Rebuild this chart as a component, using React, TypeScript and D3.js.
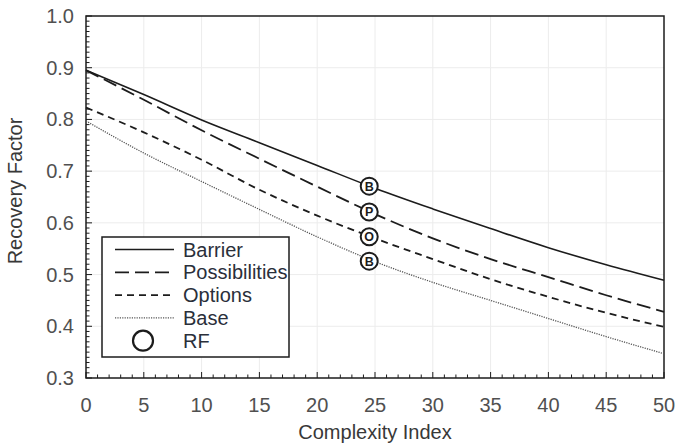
import React, { useRef, useEffect } from "react";
import * as d3 from "d3";

// complexity index samples
const xs = [0, 5, 10, 15, 20, 25, 30, 35, 40, 45, 50];
const barrier = [0.895, 0.848, 0.799, 0.755, 0.711, 0.667, 0.627, 0.589, 0.552, 0.519, 0.489];
const possibilities = [0.895, 0.838, 0.779, 0.724, 0.67, 0.617, 0.57, 0.53, 0.495, 0.46, 0.428];
const options = [0.823, 0.775, 0.722, 0.664, 0.614, 0.57, 0.53, 0.491, 0.457, 0.426, 0.399];
const base = [0.797, 0.735, 0.68, 0.626, 0.573, 0.525, 0.485, 0.45, 0.415, 0.38, 0.347];

const rfX = 24.5;
const rfVals = [0.671, 0.621, 0.573, 0.526];
const rfLetters = ["B", "P", "O", "B"];

const legendNames = ["Barrier", "Possibilities", "Options", "Base", "RF"];

const xTicks = [0, 5, 10, 15, 20, 25, 30, 35, 40, 45, 50];
const yTicks = [0.3, 0.4, 0.5, 0.6, 0.7, 0.8, 0.9, 1.0];

const App = () => {
  const ref = useRef<SVGSVGElement>(null);

  useEffect(() => {
    const svg = d3.select(ref.current);
    svg.selectAll("*").remove();

    const margin = { top: 16, right: 12, bottom: 67, left: 86 };
    const width = 676 - margin.left - margin.right;
    const height = 445 - margin.top - margin.bottom;
    const ink = "#1c1c1c";
    const font = "Liberation Sans, Arial, sans-serif";

    const x = d3.scaleLinear().domain([0, 50]).range([0, width]);
    const y = d3.scaleLinear().domain([0.3, 1.0]).range([height, 0]);

    const g = svg.append("g").attr("transform", `translate(${margin.left},${margin.top})`);

    // faint grid
    g.selectAll(".vg")
      .data(xTicks.slice(1, -1))
      .enter()
      .append("line")
      .attr("x1", (d) => x(d))
      .attr("x2", (d) => x(d))
      .attr("y1", 0)
      .attr("y2", height)
      .attr("stroke", "#ececec")
      .attr("stroke-width", 1);
    g.selectAll(".hg")
      .data(yTicks.slice(1, -1))
      .enter()
      .append("line")
      .attr("x1", 0)
      .attr("x2", width)
      .attr("y1", (d) => y(d))
      .attr("y2", (d) => y(d))
      .attr("stroke", "#ececec")
      .attr("stroke-width", 1);

    // minor + major ticks (inward)
    const xMinor = d3.range(0, 51, 1);
    g.selectAll(".xt")
      .data(xMinor)
      .enter()
      .append("line")
      .attr("x1", (d) => x(d))
      .attr("x2", (d) => x(d))
      .attr("y1", height)
      .attr("y2", (d) => height - (d % 5 === 0 ? 6 : 3.5))
      .attr("stroke", ink)
      .attr("stroke-width", 1);
    const yMinor = d3.range(30, 101, 1).map((d) => d / 100);
    g.selectAll(".yt")
      .data(yMinor)
      .enter()
      .append("line")
      .attr("x1", 0)
      .attr("x2", (d, i) => (i % 10 === 0 ? 6 : 3.5))
      .attr("y1", (d) => y(d))
      .attr("y2", (d) => y(d))
      .attr("stroke", ink)
      .attr("stroke-width", 1);

    // frame
    g.append("rect")
      .attr("width", width)
      .attr("height", height)
      .attr("fill", "none")
      .attr("stroke", ink)
      .attr("stroke-width", 1.5);

    // tick labels
    g.selectAll(".xl")
      .data(xTicks)
      .enter()
      .append("text")
      .attr("x", (d) => x(d))
      .attr("y", height + 34)
      .attr("text-anchor", "middle")
      .attr("font-family", font)
      .attr("font-size", 20)
      .attr("fill", "#505050")
      .text((d) => d);
    g.selectAll(".yl")
      .data(yTicks)
      .enter()
      .append("text")
      .attr("x", -12)
      .attr("y", (d) => y(d) + 7)
      .attr("text-anchor", "end")
      .attr("font-family", font)
      .attr("font-size", 20)
      .attr("fill", "#505050")
      .text((d) => d.toFixed(1));

    // axis titles
    g.append("text")
      .attr("x", width / 2)
      .attr("y", height + 61)
      .attr("text-anchor", "middle")
      .attr("font-family", font)
      .attr("font-size", 20)
      .attr("fill", "#383838")
      .text("Complexity Index");
    g.append("text")
      .attr("transform", `translate(${-64},${height / 2 - 6}) rotate(-90)`)
      .attr("text-anchor", "middle")
      .attr("font-family", font)
      .attr("font-size", 20)
      .attr("fill", "#383838")
      .text("Recovery Factor");

    const series = [
      { vals: barrier, dash: null, w: 1.6, color: ink },
      { vals: possibilities, dash: "14,6", w: 1.8, color: ink },
      { vals: options, dash: "7,5", w: 1.8, color: ink },
      { vals: base, dash: "1.2,1.2", w: 1.3, color: "#555" },
    ];

    const line = d3
      .line<number>()
      .x((d, i) => x(xs[i]))
      .y((d) => y(d))
      .curve(d3.curveMonotoneX);

    series.forEach((s) => {
      g.append("path")
        .attr("d", line(s.vals))
        .attr("fill", "none")
        .attr("stroke", s.color)
        .attr("stroke-width", s.w)
        .attr("stroke-dasharray", s.dash);
    });

    // RF markers
    rfVals.forEach((v, i) => {
      g.append("circle")
        .attr("cx", x(rfX))
        .attr("cy", y(v))
        .attr("r", 8.5)
        .attr("fill", "white")
        .attr("stroke", ink)
        .attr("stroke-width", 2);
      g.append("text")
        .attr("x", x(rfX))
        .attr("y", y(v) + 4.5)
        .attr("text-anchor", "middle")
        .attr("font-family", font)
        .attr("font-size", 12.5)
        .attr("font-weight", "bold")
        .attr("fill", ink)
        .text(rfLetters[i]);
    });

    // legend
    const lg = svg.append("g").attr("transform", "translate(102,237)");
    lg.append("rect")
      .attr("width", 187)
      .attr("height", 120)
      .attr("fill", "white")
      .attr("stroke", ink)
      .attr("stroke-width", 1.5);
    legendNames.forEach((name, i) => {
      const cy = 12.5 + i * 22.8;
      if (i < 4) {
        const s = series[i];
        lg.append("line")
          .attr("x1", 13)
          .attr("x2", 72)
          .attr("y1", cy)
          .attr("y2", cy)
          .attr("stroke", s.color)
          .attr("stroke-width", s.w)
          .attr("stroke-dasharray", s.dash);
      } else {
        lg.append("circle")
          .attr("cx", 41)
          .attr("cy", cy)
          .attr("r", 10)
          .attr("fill", "none")
          .attr("stroke", ink)
          .attr("stroke-width", 2.2);
      }
      lg.append("text")
        .attr("x", 81)
        .attr("y", cy + 7)
        .attr("font-family", font)
        .attr("font-size", 20)
        .attr("fill", "#2a2f3a")
        .text(name);
    });
  }, []);

  return (
    <svg
      ref={ref}
      width={676}
      height={445}
      style={{ position: "absolute", left: 0, top: 0, background: "white" }}
    />
  );
};

export default App;
